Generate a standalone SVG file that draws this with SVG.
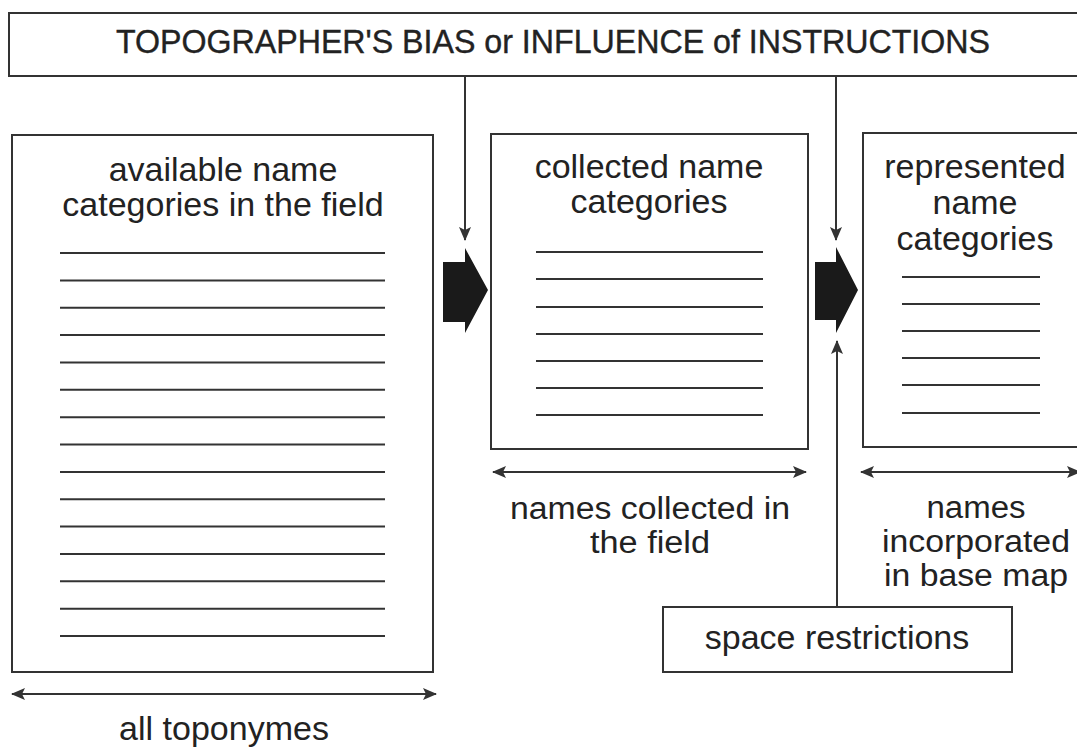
<svg xmlns="http://www.w3.org/2000/svg" width="1077" height="752" viewBox="0 0 1077 752">
<defs>
<style>
.box{fill:#fff;stroke:#333;stroke-width:2}
.t{font-family:"Liberation Sans",Arial,sans-serif;font-size:34px;fill:#222;text-anchor:middle}
.s{font-size:31px}
.ln{stroke:#333;stroke-width:2}
.c{stroke:#333;stroke-width:2;fill:none}
.blk{fill:#1a1a1a}
</style>
<marker id="ah" viewBox="0 0 14 12" refX="13" refY="6" markerWidth="14" markerHeight="12" markerUnits="userSpaceOnUse" orient="auto-start-reverse">
<path d="M0,0 L14,6 L0,12 L3,6 z" fill="#333"/>
</marker>
</defs>
<rect width="1077" height="752" fill="#fff"/>
<g id="bias">
<rect class="box" x="9" y="13" width="1080" height="63"/>
<text class="t" x="553" y="53" font-size="33" textLength="874" lengthAdjust="spacingAndGlyphs" stroke="#222" stroke-width="0.4">TOPOGRAPHER'S BIAS or INFLUENCE of INSTRUCTIONS</text>
</g>
<g id="available">
<rect class="box" x="12" y="135" width="421" height="537"/>
<text class="t" x="223" y="181">available name</text>
<text class="t" x="223" y="216">categories in the field</text>
<g class="ln">
<line x1="60" y1="253" x2="385" y2="253"/>
<line x1="60" y1="280.4" x2="385" y2="280.4"/>
<line x1="60" y1="307.7" x2="385" y2="307.7"/>
<line x1="60" y1="335.1" x2="385" y2="335.1"/>
<line x1="60" y1="362.4" x2="385" y2="362.4"/>
<line x1="60" y1="389.8" x2="385" y2="389.8"/>
<line x1="60" y1="417.2" x2="385" y2="417.2"/>
<line x1="60" y1="444.5" x2="385" y2="444.5"/>
<line x1="60" y1="471.9" x2="385" y2="471.9"/>
<line x1="60" y1="499.2" x2="385" y2="499.2"/>
<line x1="60" y1="526.6" x2="385" y2="526.6"/>
<line x1="60" y1="554" x2="385" y2="554"/>
<line x1="60" y1="581.3" x2="385" y2="581.3"/>
<line x1="60" y1="608.7" x2="385" y2="608.7"/>
<line x1="60" y1="636" x2="385" y2="636"/>
</g>
</g>
<g id="collected">
<rect class="box" x="491" y="134" width="317" height="315"/>
<text class="t" x="649" y="178">collected name</text>
<text class="t" x="649" y="213">categories</text>
<g class="ln">
<line x1="536" y1="252" x2="763" y2="252"/>
<line x1="536" y1="279" x2="763" y2="279"/>
<line x1="536" y1="307" x2="763" y2="307"/>
<line x1="536" y1="334" x2="763" y2="334"/>
<line x1="536" y1="361" x2="763" y2="361"/>
<line x1="536" y1="388" x2="763" y2="388"/>
<line x1="536" y1="415" x2="763" y2="415"/>
</g>
</g>
<g id="represented">
<rect class="box" x="863" y="133" width="230" height="314"/>
<text class="t" x="975" y="178">represented</text>
<text class="t" x="975" y="214">name</text>
<text class="t" x="975" y="250">categories</text>
<g class="ln">
<line x1="902" y1="277" x2="1040" y2="277"/>
<line x1="902" y1="304" x2="1040" y2="304"/>
<line x1="902" y1="331" x2="1040" y2="331"/>
<line x1="902" y1="358" x2="1040" y2="358"/>
<line x1="902" y1="385" x2="1040" y2="385"/>
<line x1="902" y1="413" x2="1040" y2="413"/>
</g>
</g>
<g id="space">
<rect class="box" x="663" y="607" width="349" height="65"/>
<text class="t" x="837" y="649">space restrictions</text>
</g>
<g id="labels">
<text class="t" x="224" y="740">all toponymes</text>
<text class="t s" x="650" y="519" textLength="280" lengthAdjust="spacingAndGlyphs">names collected in</text>
<text class="t s" x="650" y="553" textLength="120" lengthAdjust="spacingAndGlyphs">the field</text>
<text class="t s" x="976" y="518" textLength="99" lengthAdjust="spacingAndGlyphs">names</text>
<text class="t s" x="976" y="552" textLength="188" lengthAdjust="spacingAndGlyphs">incorporated</text>
<text class="t s" x="976" y="586" textLength="184" lengthAdjust="spacingAndGlyphs">in base map</text>
</g>
<g id="connectors">
<path class="blk" d="M443,262 L465,262 L465,248 L488,290 L465,333 L465,322 L443,322 z"/>
<path class="blk" d="M815,262 L836,262 L836,247 L858,290 L836,333 L836,320 L815,320 z"/>
<line class="c" x1="465" y1="76" x2="465" y2="240" marker-end="url(#ah)"/>
<line class="c" x1="836" y1="76" x2="836" y2="240" marker-end="url(#ah)"/>
<line class="c" x1="837" y1="607" x2="837" y2="341" marker-end="url(#ah)"/>
<line class="c" x1="12" y1="694" x2="436" y2="694" marker-start="url(#ah)" marker-end="url(#ah)"/>
<line class="c" x1="493" y1="472" x2="806" y2="472" marker-start="url(#ah)" marker-end="url(#ah)"/>
<line class="c" x1="861" y1="472" x2="1080" y2="472" marker-start="url(#ah)" marker-end="url(#ah)"/>
</g>
</svg>
